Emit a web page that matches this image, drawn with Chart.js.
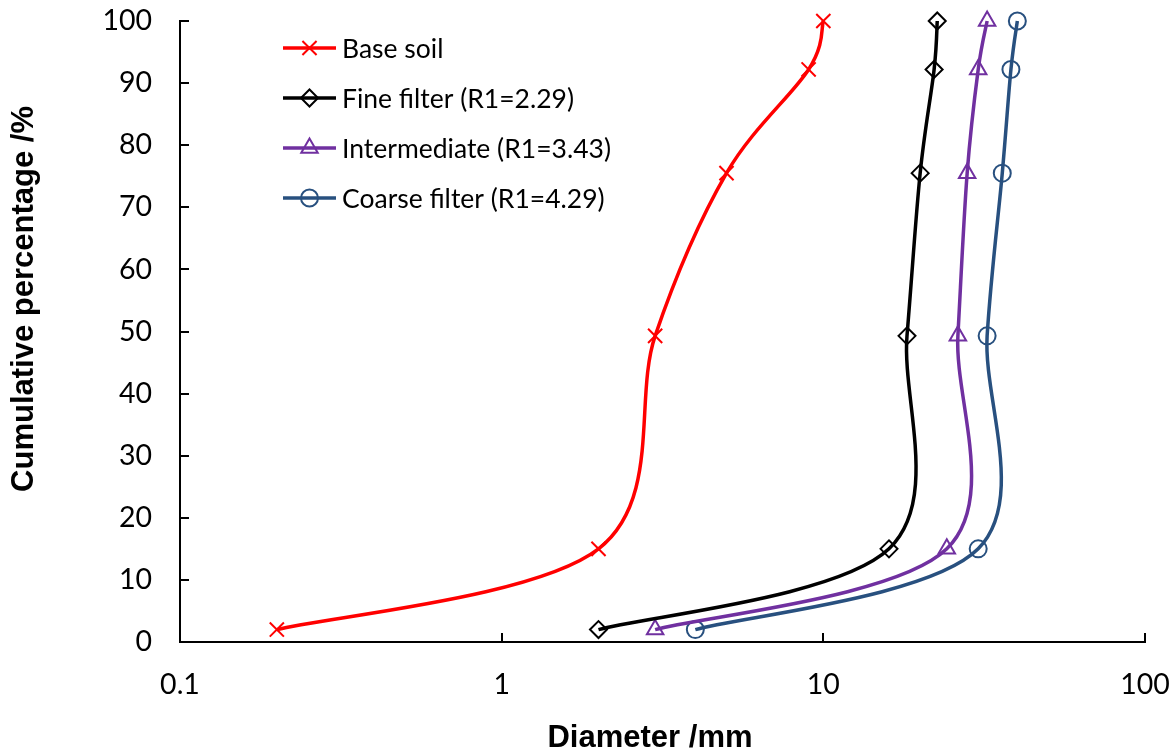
<!DOCTYPE html>
<html><head><meta charset="utf-8">
<script src="https://cdn.jsdelivr.net/npm/chart.js@4.4.1/dist/chart.umd.min.js"></script>
<style>html,body{margin:0;padding:0;background:#fff}#wrap{width:1176px;height:756px}</style>
</head><body><div id="wrap"><canvas id="c" width="1176" height="756"></canvas></div>
<script>
// ---- data ----
const cumulativePercent = [2, 15, 49.3, 75.5, 92.2, 100];
const baseSoilDiameter = [0.2, 2, 3, 5, 9, 10];
const fineFilterDiameter = [2, 16, 18.2, 20, 22.1, 22.6];
const intermediateDiameter = [3, 24.2, 26.2, 28, 30.3, 32.3];
const coarseFilterDiameter = [4, 30.3, 32.3, 36, 38.3, 40.1];
const seriesNames = ['Base soil', 'Fine filter (R1=2.29)', 'Intermediate (R1=3.43)', 'Coarse filter (R1=4.29)'];
const xTickValues = [0.1, 1, 10, 100];
const yTickValues = [0, 10, 20, 30, 40, 50, 60, 70, 80, 90, 100];
const xTitle = 'Diameter /mm';
const yTitle = 'Cumulative percentage /%';

// ---- styles ----
const seriesColors = ['#FF0000', '#000000', '#7030A0', '#28507F'];
const seriesMarkers = ['crossRot', 'rectRot', 'triangle', 'circle'];
const markerRadii = [10, 8.5, 9.5, 8.5];
const seriesX = [baseSoilDiameter, fineFilterDiameter, intermediateDiameter, coarseFilterDiameter];

const datasets = seriesX.map((xs, i) => ({
  label: seriesNames[i],
  data: xs.map((x, k) => ({ x: x, y: cumulativePercent[k] })),
  showLine: true,
  borderColor: seriesColors[i],
  borderWidth: 3.5,
  tension: 0.5,
  pointStyle: seriesMarkers[i],
  pointRadius: markerRadii[i],
  pointHoverRadius: markerRadii[i],
  pointBorderColor: seriesColors[i],
  pointBackgroundColor: 'rgba(0,0,0,0)',
  pointBorderWidth: 2,
  clip: false
}));

function drawMarker(ctx, style, x, y, r) {
  ctx.beginPath();
  if (style === 'crossRot') {
    const d = r * Math.SQRT1_2;
    ctx.moveTo(x - d, y - d); ctx.lineTo(x + d, y + d);
    ctx.moveTo(x - d, y + d); ctx.lineTo(x + d, y - d);
  } else if (style === 'rectRot') {
    ctx.moveTo(x - r, y); ctx.lineTo(x, y - r); ctx.lineTo(x + r, y); ctx.lineTo(x, y + r); ctx.closePath();
  } else if (style === 'triangle') {
    ctx.moveTo(x, y - r);
    ctx.lineTo(x + r * Math.sin(Math.PI / 3), y + r / 2);
    ctx.lineTo(x - r * Math.sin(Math.PI / 3), y + r / 2);
    ctx.closePath();
  } else {
    ctx.arc(x, y, r, 0, Math.PI * 2);
  }
  ctx.stroke();
}

// Excel-like smoothing: Bezier handles = (next - prev) / 6 in pixel space
const smoothPlugin = {
  id: 'excelSmooth',
  beforeDatasetDraw(chart, args) {
    const meta = args.meta;
    const line = meta.dataset;
    if (!line || typeof line.updateControlPoints !== 'function') return;
    line.updateControlPoints(chart.chartArea, 'x');
    const pts = meta.data;
    const n = pts.length;
    for (let i = 0; i < n; i++) {
      const p = pts[i];
      const prev = pts[Math.max(i - 1, 0)];
      const next = pts[Math.min(i + 1, n - 1)];
      const dx = (next.x - prev.x) / 6, dy = (next.y - prev.y) / 6;
      p.cp1x = p.x - dx; p.cp1y = p.y - dy;
      p.cp2x = p.x + dx; p.cp2y = p.y + dy;
    }
  }
};

const decorPlugin = {
  id: 'decor',
  afterDraw(chart) {
    const ctx = chart.ctx;
    const xs = chart.scales.x, ys = chart.scales.y;
    const a = chart.chartArea;
    ctx.save();
    // inward tick marks
    ctx.strokeStyle = '#000';
    ctx.lineWidth = 2;
    ctx.beginPath();
    yTickValues.forEach(v => {
      const py = Math.round(ys.getPixelForValue(v));
      ctx.moveTo(a.left, py); ctx.lineTo(a.left + 9, py);
    });
    xTickValues.slice(1).forEach(v => {
      const px = Math.round(xs.getPixelForValue(v));
      ctx.moveTo(px, a.bottom); ctx.lineTo(px, a.bottom - 9);
    });
    ctx.stroke();
    // axis titles
    ctx.fillStyle = '#000';
    ctx.font = 'bold 31px "Liberation Sans", Arial, sans-serif';
    ctx.textAlign = 'center';
    ctx.textBaseline = 'alphabetic';
    ctx.fillText(xTitle, 650, 747);
    ctx.save();
    ctx.translate(33, 299);
    ctx.rotate(-Math.PI / 2);
    ctx.fillText(yTitle, 0, 0);
    ctx.restore();
    // legend
    ctx.font = '26.5px Lato, sans-serif';
    ctx.textAlign = 'left';
    ctx.textBaseline = 'middle';
    chart.data.datasets.forEach((ds, i) => {
      const cy = 48 + 50 * i;
      ctx.strokeStyle = ds.borderColor;
      ctx.lineWidth = 3.5;
      ctx.beginPath(); ctx.moveTo(283, cy); ctx.lineTo(336, cy); ctx.stroke();
      ctx.lineWidth = 2;
      drawMarker(ctx, ds.pointStyle, 309.5, cy, ds.pointRadius);
      ctx.fillStyle = '#000';
      ctx.fillText(ds.label, 342, cy + 1);
    });
    ctx.restore();
  }
};

function zeroPad(s) { s.paddingTop = 0; s.paddingBottom = 0; s.paddingLeft = 0; s.paddingRight = 0; }

new Chart(document.getElementById('c'), {
  type: 'scatter',
  data: { datasets },
  options: {
    responsive: false,
    devicePixelRatio: 1,
    animation: false,
    events: [],
    layout: { padding: { top: 21, right: 31, left: 0, bottom: 0 } },
    plugins: { legend: { display: false }, tooltip: { enabled: false } },
    scales: {
      x: {
        type: 'logarithmic', min: 0.1, max: 100, position: 'bottom',
        grid: { display: false, drawTicks: false },
        border: { display: true, color: '#000', width: 2 },
        afterBuildTicks: s => { s.ticks = xTickValues.map(v => ({ value: v })); },
        afterFit: s => { s.height = 114; zeroPad(s); },
        ticks: {
          autoSkip: false, maxRotation: 0, color: '#000', padding: 26,
          font: { family: 'Lato', size: 28.5 },
          callback: v => String(v)
        }
      },
      y: {
        min: 0, max: 100,
        grid: { display: false, drawTicks: false },
        border: { display: true, color: '#000', width: 2 },
        afterBuildTicks: s => { s.ticks = yTickValues.map(v => ({ value: v })); },
        afterFit: s => { s.width = 180; zeroPad(s); },
        ticks: {
          color: '#000', padding: 28,
          font: { family: 'Lato', size: 28.5 },
          callback: v => String(v)
        }
      }
    }
  },
  plugins: [smoothPlugin, decorPlugin]
});
</script></body></html>
